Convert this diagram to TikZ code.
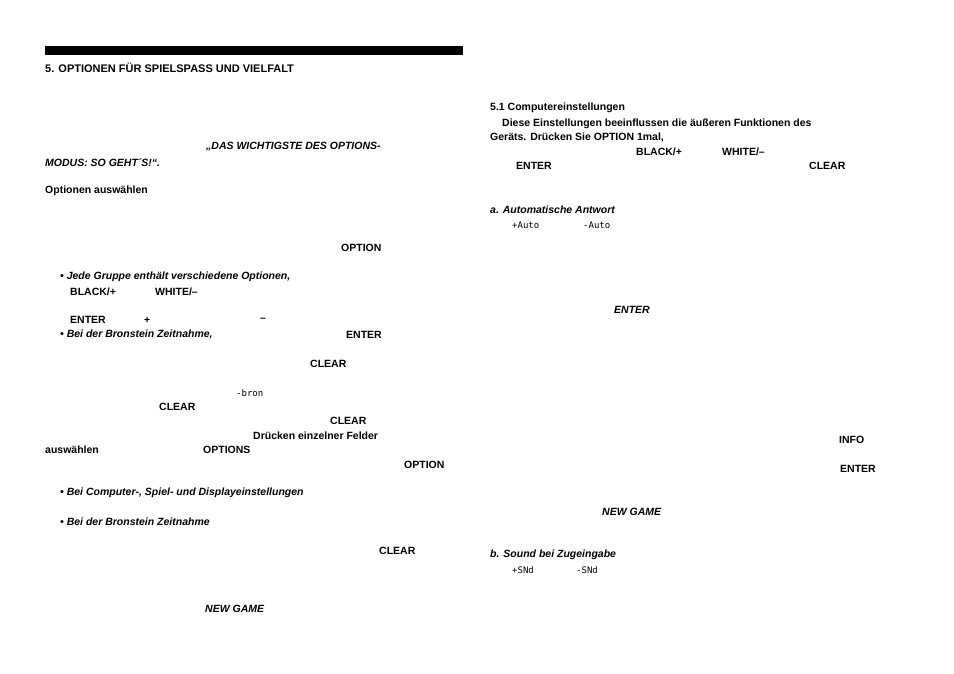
\documentclass[tikz,border=0pt]{standalone}
\usepackage{fontspec}
\setmainfont{Liberation Sans}
\newfontfamily\lcdfont{DejaVu Sans Mono}
\begin{document}
\begin{tikzpicture}[x=1pt,y=-1pt,
  t/.style={anchor=west,inner sep=0pt,font=\fontsize{10.5}{12}\selectfont\bfseries},
  ti/.style={t,font=\fontsize{10.5}{12}\selectfont\bfseries\itshape},
  lcd/.style={anchor=west,inner sep=0pt,font=\fontsize{9}{10}\selectfont\lcdfont}]
\useasboundingbox (0,0) rectangle (954,674);
\fill (45,46) rectangle (463,55);
\node[t,font=\fontsize{11}{12}\selectfont\bfseries] (h) at (45,68) {5. OPTIONEN FÜR SPIELSPASS UND VIELFALT};
\node[ti] (l1) at (206,147) {„DAS WICHTIGSTE DES OPTIONS-};
\node[ti] (l2) at (45,163) {MODUS: SO GEHT´S!“.};
\node[t] (l3) at (45,191) {Optionen auswählen};
\node[t] (l4) at (341,248) {OPTION};
\node[ti] (l5) at (60,277) {• Jede Gruppe enthält verschiedene Optionen,};
\node[t] (l6) at (70,292) {BLACK/+};
\node[t] (l7) at (155,292) {WHITE/–};
\node[t] (l8) at (70,320) {ENTER};
\node[t] (l9) at (144,320) {+};
\node[t] (l10) at (260,320) {–};
\node[ti] (l11) at (60,335) {• Bei der Bronstein Zeitnahme,};
\node[t] (l12) at (346,335) {ENTER};
\node[t] (l13) at (310,364) {CLEAR};
\node[lcd] (l14) at (236,393) {-bron};
\node[t] (l15) at (159,407) {CLEAR};
\node[t] (l16) at (330,421) {CLEAR};
\node[t] (l17) at (253,436) {Drücken einzelner Felder};
\node[t] (l18) at (45,450) {auswählen};
\node[t] (l19) at (203,450) {OPTIONS};
\node[t] (l20) at (404,465) {OPTION};
\node[ti] (l21) at (60,493) {• Bei Computer-, Spiel- und Displayeinstellungen};
\node[ti] (l22) at (60,522) {• Bei der Bronstein Zeitnahme};
\node[t] (l23) at (379,551) {CLEAR};
\node[ti] (l24) at (205,609) {NEW GAME};
\node[t] (r1) at (490,108) {5.1 Computereinstellungen};
\node[t] (r2) at (502,124) {Diese Einstellungen beeinflussen die äußeren Funktionen des};
\node[t] (r3) at (490,138) {Geräts. Drücken Sie OPTION 1mal,};
\node[t] (r4) at (636,152) {BLACK/+};
\node[t] (r5) at (722,152) {WHITE/–};
\node[t] (r6) at (516,166) {ENTER};
\node[t] (r7) at (809,166) {CLEAR};
\node[ti] (r8) at (490,210) {a. Automatische Antwort};
\node[lcd] (r9) at (512,225) {+Auto};
\node[lcd] (r10) at (583,225) {-Auto};
\node[ti] (r11) at (614,310) {ENTER};
\node[t] (r12) at (839,440) {INFO};
\node[t] (r13) at (840,469) {ENTER};
\node[ti] (r14) at (602,512) {NEW GAME};
\node[ti] (r15) at (490,555) {b. Sound bei Zugeingabe};
\node[lcd] (r16) at (512,570) {+SNd};
\node[lcd] (r17) at (576,570) {-SNd};
\end{tikzpicture}
\end{document}
